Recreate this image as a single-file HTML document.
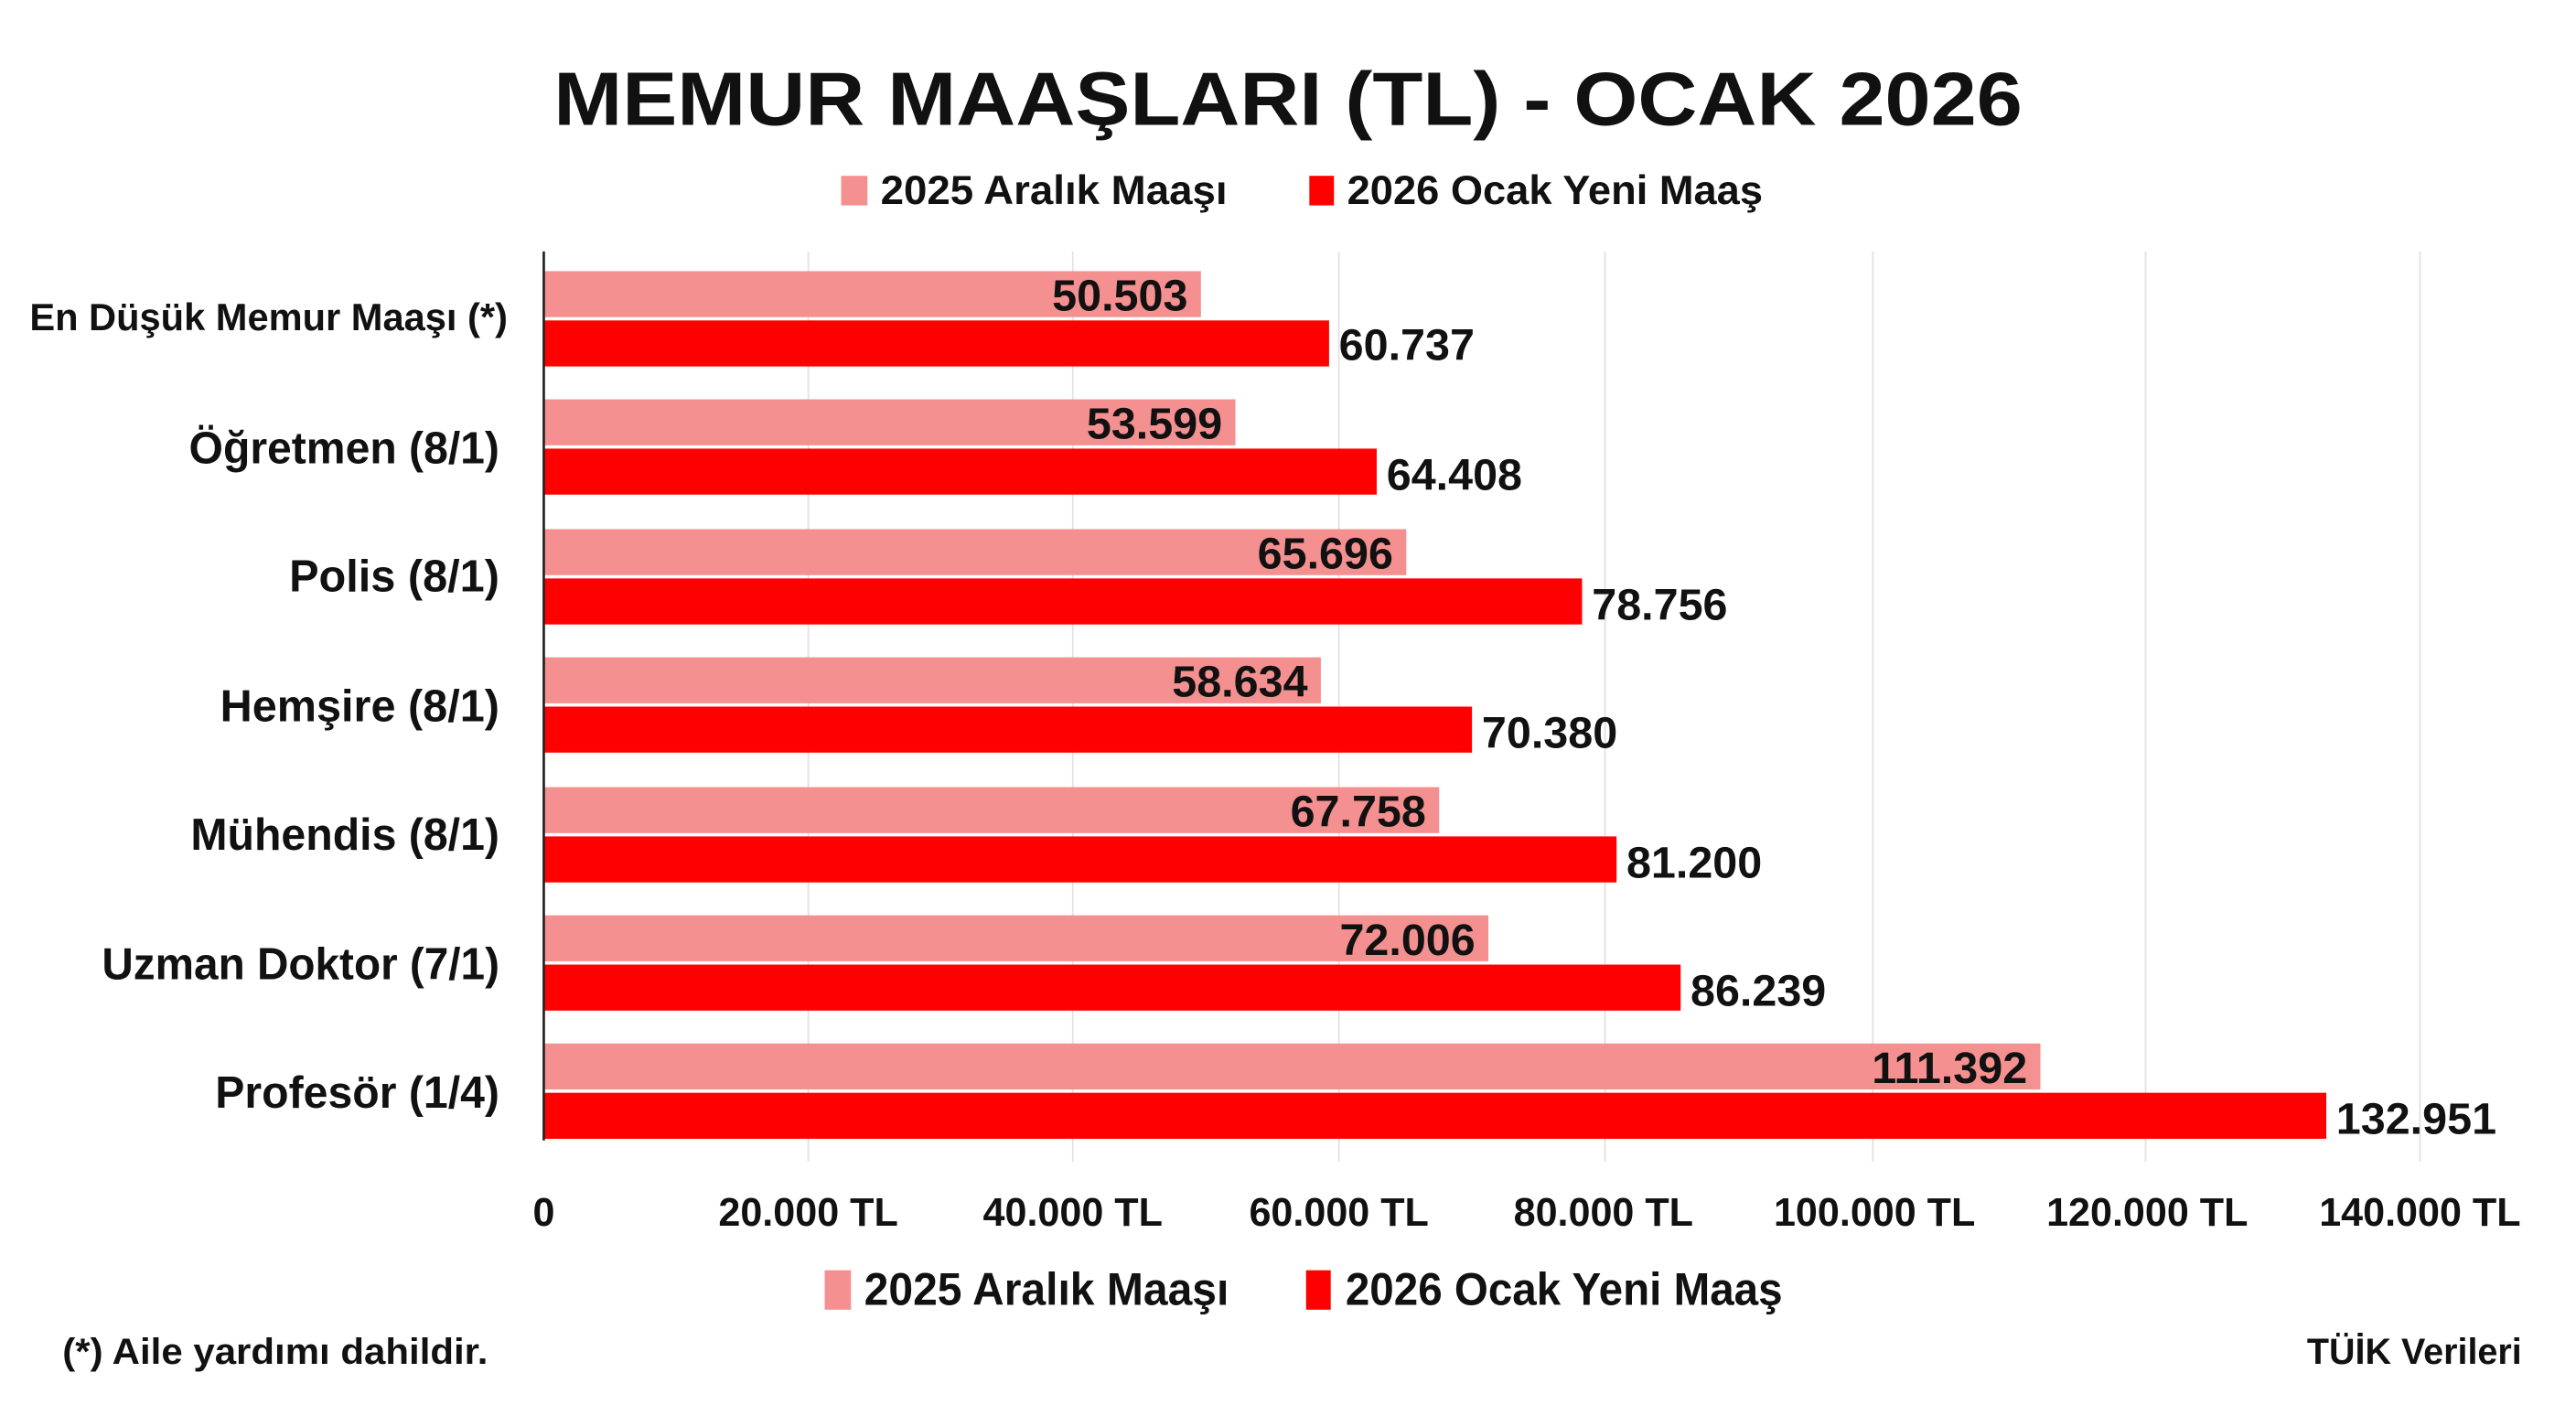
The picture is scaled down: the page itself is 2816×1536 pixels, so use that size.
<!DOCTYPE html>
<html><head><meta charset="utf-8"><style>
html,body{margin:0;padding:0;background:#fff}
svg{display:block}
text{font-family:"Liberation Sans",sans-serif;font-weight:bold;fill:#111}
</style></head><body>
<svg width="2816" height="1536" viewBox="0 0 1568 855" preserveAspectRatio="none">
<rect width="1568" height="855" fill="#fff"/>
<text x="784" y="76" text-anchor="middle" font-size="46" textLength="894" lengthAdjust="spacingAndGlyphs" style="font-weight:900">MEMUR MAAŞLARI (TL) - OCAK 2026</text>
<rect x="512" y="107" width="16" height="18" fill="#f59090"/>
<text x="536" y="124" font-size="25" textLength="211" lengthAdjust="spacingAndGlyphs">2025 Aralık Maaşı</text>
<rect x="797" y="107" width="15" height="18" fill="#ff0000"/>
<text x="820" y="124" font-size="25" textLength="253" lengthAdjust="spacingAndGlyphs">2026 Ocak Yeni Maaş</text>
<g stroke="#e2e2e2" stroke-width="1">
<line x1="492" y1="153" x2="492" y2="707"/><line x1="653" y1="153" x2="653" y2="707"/>
<line x1="815" y1="153" x2="815" y2="707"/><line x1="977" y1="153" x2="977" y2="707"/>
<line x1="1140" y1="153" x2="1140" y2="707"/><line x1="1306" y1="153" x2="1306" y2="707"/>
<line x1="1473" y1="153" x2="1473" y2="707"/>
</g>
<g id="bars">
<rect x="331" y="165" width="400" height="28" fill="#f59090"/><rect x="331" y="195" width="478" height="28" fill="#ff0000"/>
<rect x="331" y="243" width="421" height="28" fill="#f59090"/><rect x="331" y="273" width="507" height="28" fill="#ff0000"/>
<rect x="331" y="322" width="525" height="28" fill="#f59090"/><rect x="331" y="352" width="632" height="28" fill="#ff0000"/>
<rect x="331" y="400" width="473" height="28" fill="#f59090"/><rect x="331" y="430" width="565" height="28" fill="#ff0000"/>
<rect x="331" y="479" width="545" height="28" fill="#f59090"/><rect x="331" y="509" width="653" height="28" fill="#ff0000"/>
<rect x="331" y="557" width="575" height="28" fill="#f59090"/><rect x="331" y="587" width="692" height="28" fill="#ff0000"/>
<rect x="331" y="635" width="911" height="28" fill="#f59090"/><rect x="331" y="665" width="1085" height="28" fill="#ff0000"/>
</g>
<line x1="331" y1="153" x2="331" y2="694" stroke="#222" stroke-width="1.5"/>
<g font-size="27">
<text x="723" y="189" text-anchor="end">50.503</text><text x="815" y="219">60.737</text>
<text x="744" y="267" text-anchor="end">53.599</text><text x="844" y="298">64.408</text>
<text x="848" y="346" text-anchor="end">65.696</text><text x="969" y="377">78.756</text>
<text x="796" y="424" text-anchor="end">58.634</text><text x="902" y="455">70.380</text>
<text x="868" y="503" text-anchor="end">67.758</text><text x="990" y="534">81.200</text>
<text x="898" y="581" text-anchor="end">72.006</text><text x="1029" y="612">86.239</text>
<text x="1234" y="659" text-anchor="end">111.392</text><text x="1422" y="690">132.951</text>
</g>
<g font-size="27.5" lengthAdjust="spacingAndGlyphs">
<text x="18" y="201" font-size="23" textLength="291" lengthAdjust="spacingAndGlyphs">En Düşük Memur Maaşı (*)</text>
<text x="115" y="282" textLength="189" lengthAdjust="spacingAndGlyphs">Öğretmen (8/1)</text>
<text x="176" y="360" textLength="128" lengthAdjust="spacingAndGlyphs">Polis (8/1)</text>
<text x="134" y="439" textLength="170" lengthAdjust="spacingAndGlyphs">Hemşire (8/1)</text>
<text x="116" y="517" textLength="188" lengthAdjust="spacingAndGlyphs">Mühendis (8/1)</text>
<text x="62" y="596" textLength="242" lengthAdjust="spacingAndGlyphs">Uzman Doktor (7/1)</text>
<text x="131" y="674" textLength="173" lengthAdjust="spacingAndGlyphs">Profesör (1/4)</text>
</g>
<g font-size="24" text-anchor="middle">
<text x="331" y="746">0</text>
<text x="492" y="746">20.000 TL</text><text x="653" y="746">40.000 TL</text>
<text x="815" y="746">60.000 TL</text><text x="976" y="746">80.000 TL</text>
<text x="1141" y="746">100.000 TL</text><text x="1307" y="746">120.000 TL</text>
<text x="1473" y="746">140.000 TL</text>
</g>
<rect x="502" y="773" width="16" height="24" fill="#f59090"/>
<text x="526" y="794" font-size="28" textLength="222" lengthAdjust="spacingAndGlyphs">2025 Aralık Maaşı</text>
<rect x="795" y="773" width="15" height="24" fill="#ff0000"/>
<text x="819" y="794" font-size="28" textLength="266" lengthAdjust="spacingAndGlyphs">2026 Ocak Yeni Maaş</text>
<text x="38" y="830" font-size="22" textLength="259" lengthAdjust="spacingAndGlyphs">(*) Aile yardımı dahildir.</text>
<text x="1535" y="830" font-size="22" text-anchor="end">TÜİK Verileri</text>
</svg>
</body></html>
